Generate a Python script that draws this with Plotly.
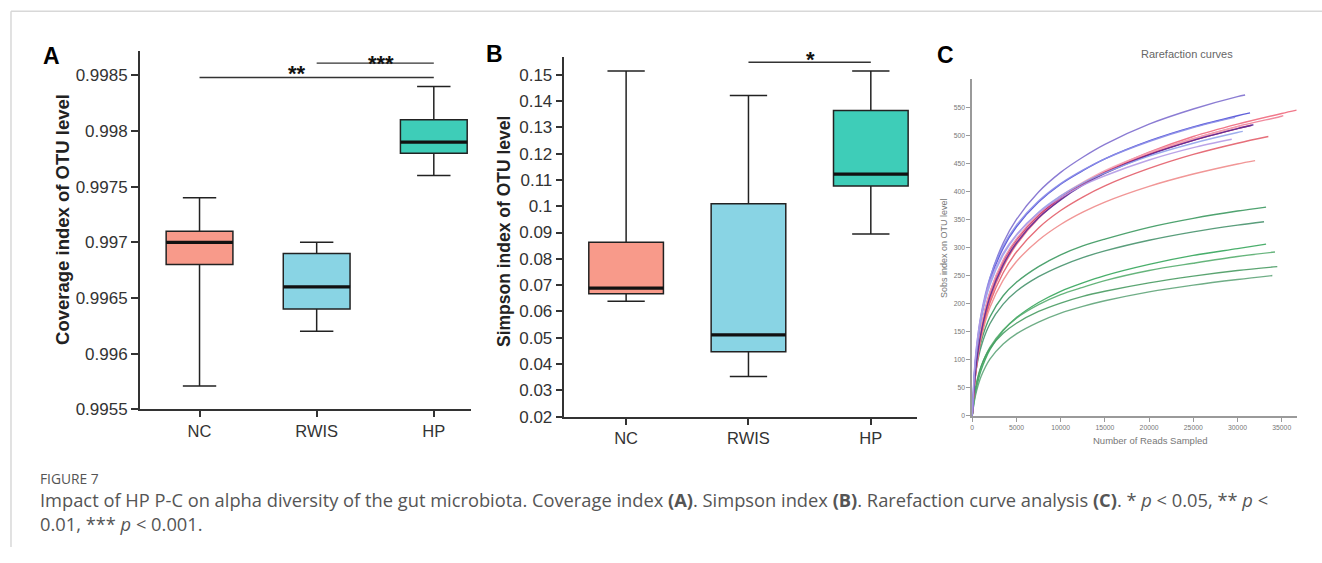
import plotly.graph_objects as go

W, H = 1322, 563

# ---------------- data ----------------
groups = ["NC", "RWIS", "HP"]
box_colors = ["#f89a8a", "#89d4e4", "#3ecdb8"]

# Panel A : Coverage index
cov_lower = [0.99571, 0.99620, 0.99760]
cov_q1 = [0.99680, 0.99640, 0.99780]
cov_median = [0.99700, 0.99660, 0.99790]
cov_q3 = [0.99710, 0.99690, 0.99810]
cov_upper = [0.99740, 0.99700, 0.99840]
cov_ticks = [0.9955, 0.996, 0.9965, 0.997, 0.9975, 0.998, 0.9985]
cov_ticktext = ["0.9955", "0.996", "0.9965", "0.997", "0.9975", "0.998", "0.9985"]

# Panel B : Simpson index
simp_lower = [0.0639, 0.0353, 0.0894]
simp_q1 = [0.0667, 0.0447, 0.1077]
simp_median = [0.0689, 0.0511, 0.1122]
simp_q3 = [0.0863, 0.1009, 0.1364]
simp_upper = [0.1514, 0.1421, 0.1514]
simp_ticks = [0.02, 0.03, 0.04, 0.05, 0.06, 0.07, 0.08, 0.09, 0.10, 0.11, 0.12, 0.13, 0.14, 0.15]
simp_ticktext = ["0.02", "0.03", "0.04", "0.05", "0.06", "0.07", "0.08", "0.09", "0.1",
                 "0.11", "0.12", "0.13", "0.14", "0.15"]

# significance brackets: (from, to, bracket level, label, label x, label y)
cov_sig = [(0, 2, 0.99848, "**", 0.83, 0.99852), (1, 2, 0.99861, "***", 1.55, 0.99861)]
simp_sig = [(1, 2, 0.1547, "*", 1.51, 0.1557)]

# Panel C : rarefaction curves (reads sampled grid, per-sample last depth and Sobs values)
reads_grid = [0, 250, 500, 1000, 2000, 3500, 5000, 7500, 10000, 12500, 15000, 20000, 25000, 30000, 35000]

purple_ends = [30860, 31420, 29730, 31800, 30600, 29350]
purple_sobs = [
    [0, 70, 115, 174, 245, 308, 350, 399, 434, 461, 484, 520, 547, 569, 572],
    [0, 74, 119, 176, 241, 299, 337, 381, 413, 437, 458, 490, 515, 535, 540],
    [0, 79, 124, 181, 246, 303, 340, 383, 414, 438, 458, 489, 514, 532],
    [0, 57, 96, 148, 212, 269, 308, 353, 385, 411, 432, 465, 491, 512, 519],
    [0, 75, 118, 171, 233, 287, 322, 363, 392, 415, 433, 463, 486, 505, 507],
    [0, 82, 126, 179, 239, 290, 323, 362, 389, 411, 428, 456, 478, 493],
]
purple_colors = ["#7f6fcf", "#4f4fd6", "#8d8fe8", "#5b2d9a", "#93a5ec", "#b49be6"]

pink_ends = [36690, 35180, 31600, 30480, 33490, 31990]
pink_sobs = [
    [0, 53, 89, 141, 206, 265, 305, 352, 386, 413, 435, 470, 498, 520, 539, 545],
    [0, 58, 97, 149, 213, 271, 310, 355, 388, 414, 435, 468, 494, 516, 534, 535],
    [0, 63, 103, 156, 220, 276, 314, 358, 389, 414, 434, 466, 491, 512, 518],
    [0, 63, 104, 157, 221, 278, 316, 360, 392, 416, 437, 469, 494, 515, 517],
    [0, 55, 91, 141, 201, 255, 292, 335, 366, 390, 410, 441, 466, 486, 498],
    [0, 55, 90, 137, 193, 242, 275, 313, 341, 363, 381, 409, 431, 449, 455],
]
pink_colors = ["#f06a7e", "#ef7f95", "#c4225a", "#f3a3b5", "#e4606c", "#f08c8c"]

green_ends = [33230, 33000, 33230, 34240, 34500, 33940]
green_sobs = [
    [0, 60, 93, 132, 176, 214, 238, 266, 287, 303, 315, 336, 352, 365, 372],
    [0, 56, 87, 123, 164, 199, 222, 248, 267, 282, 294, 313, 328, 340, 346],
    [0, 30, 51, 81, 118, 152, 175, 202, 222, 237, 250, 270, 286, 298, 306],
    [0, 35, 57, 87, 122, 153, 174, 198, 216, 229, 241, 259, 272, 284, 292],
    [0, 38, 60, 88, 120, 147, 165, 186, 201, 213, 222, 237, 249, 259, 266],
    [0, 27, 45, 70, 101, 128, 146, 167, 183, 195, 205, 221, 233, 243, 250],
]
green_colors = ["#3e9a62", "#4a9470", "#3aa85e", "#5aae72", "#4c9e66", "#62a67c"]

rare_xticks = [0, 5000, 10000, 15000, 20000, 25000, 30000, 35000]
rare_yticks = [0, 50, 100, 150, 200, 250, 300, 350, 400, 450, 500, 550]

caption_head = "FIGURE 7"
caption_lines = [
    "Impact of HP P-C on alpha diversity of the gut microbiota. Coverage index <b>(A)</b>. "
    "Simpson index <b>(B)</b>. Rarefaction curve analysis <b>(C)</b>. * <i>p</i> &lt; 0.05, ** <i>p</i> &lt;",
    "0.01, *** <i>p</i> &lt; 0.001.",
]

# ---------------- helpers ----------------
def px_x(p):
    return p / W

def px_y(p):
    return 1 - p / H

AX = "#333333"
ARIAL = "Liberation Sans, Arial, sans-serif"

fig = go.Figure()

def add_boxes(xa, ya, lower, q1, med, q3, upper, width):
    for i, g in enumerate(groups):
        fig.add_trace(go.Box(
            x=[i], lowerfence=[lower[i]], q1=[q1[i]], median=[med[i]], q3=[q3[i]],
            upperfence=[upper[i]], width=width, whiskerwidth=0.5,
            fillcolor=box_colors[i], line=dict(color="#222222", width=1.5),
            boxpoints=False, xaxis=xa, yaxis=ya, name=g, hoverinfo="skip"))
        fig.add_trace(go.Scatter(
            x=[i - width / 2, i + width / 2], y=[med[i], med[i]], mode="lines",
            line=dict(color="#111111", width=3.2), xaxis=xa, yaxis=ya, hoverinfo="skip"))

def add_sig(xa, ya, sig):
    for a, b, lvl, lab, tx, ty in sig:
        fig.add_trace(go.Scatter(x=[a, b], y=[lvl, lvl], mode="lines",
                                 line=dict(color="#333333", width=1.3),
                                 xaxis=xa, yaxis=ya, hoverinfo="skip"))
        fig.add_annotation(x=tx, y=ty, xref=xa, yref=ya, text="<b>" + lab + "</b>",
                           showarrow=False, font=dict(family=ARIAL, size=22, color="#111"),
                           xanchor="center", yanchor="middle")

add_boxes("x", "y", cov_lower, cov_q1, cov_median, cov_q3, cov_upper, 0.57)
add_sig("x", "y", cov_sig)
add_boxes("x2", "y2", simp_lower, simp_q1, simp_median, simp_q3, simp_upper, 0.61)
add_sig("x2", "y2", simp_sig)

for ends, sobs, cols in [(green_ends, green_sobs, green_colors),
                         (pink_ends, pink_sobs, pink_colors),
                         (purple_ends, purple_sobs, purple_colors)]:
    for end, ys, c in zip(ends, sobs, cols):
        xs = [g for g in reads_grid if g < end] + [end]
        fig.add_trace(go.Scatter(x=xs, y=ys, mode="lines",
                                 line=dict(color=c, width=1.4, shape="spline", smoothing=0.9),
                                 opacity=0.9, xaxis="x3", yaxis="y3", hoverinfo="skip"))

common_axis = dict(showline=True, linecolor=AX, linewidth=1.5, ticks="outside", tickcolor=AX,
                   tickwidth=1.5, showgrid=False, zeroline=False)
yfont = dict(family=ARIAL, size=17, color="#333333")
xfont = dict(family=ARIAL, size=16.5, color="#333333")
cfont = dict(family=ARIAL, size=6.8, color="#777777")

fig.update_layout(
    width=W, height=H, margin=dict(l=0, r=0, t=0, b=0),
    paper_bgcolor="white", plot_bgcolor="white", showlegend=False,
    xaxis=dict(common_axis, domain=[px_x(138), px_x(470)], range=[-0.51, 2.32],
               tickvals=[0, 1, 2], ticktext=groups, ticklen=6, tickfont=xfont, anchor="y"),
    yaxis=dict(common_axis, domain=[px_y(416.7), px_y(51.7)], range=[0.9955, 0.99872],
               tickvals=cov_ticks, ticktext=cov_ticktext, ticklen=7, tickfont=yfont, anchor="x"),
    xaxis2=dict(common_axis, domain=[px_x(563.3), px_x(916.7)], range=[-0.504, 2.38],
                tickvals=[0, 1, 2], ticktext=groups, ticklen=6, tickfont=xfont, anchor="y2"),
    yaxis2=dict(common_axis, domain=[px_y(424.3), px_y(58.3)], range=[0.02, 0.1566],
                tickvals=simp_ticks, ticktext=simp_ticktext, ticklen=7, tickfont=yfont, anchor="x2"),
    xaxis3=dict(showline=True, linecolor="#9a9a9a", linewidth=1.5, ticks="outside", tickcolor="#9a9a9a",
                ticklen=4, tickwidth=1.2, showgrid=False, zeroline=False, tickformat="d",
                domain=[px_x(971.7), px_x(1296.7)], range=[0, 36700], tickvals=rare_xticks,
                tickfont=cfont, anchor="y3"),
    yaxis3=dict(showline=True, linecolor="#9a9a9a", linewidth=1.5, ticks="outside", tickcolor="#9a9a9a",
                ticklen=4, tickwidth=1.2, showgrid=False, zeroline=False, tickformat="d",
                domain=[px_y(423.3), px_y(80.7)], range=[0, 600], tickvals=rare_yticks,
                tickfont=cfont, anchor="x3"),
)

def ann(x, y, text, size, color="#111", bold=False, angle=0, family=ARIAL, xanchor="center", align="center"):
    fig.add_annotation(x=px_x(x), y=px_y(y), xref="paper", yref="paper",
                       text=("<b>%s</b>" % text) if bold else text, showarrow=False,
                       textangle=angle, xanchor=xanchor, yanchor="middle", align=align,
                       font=dict(family=family, size=size, color=color))

# panel letters
ann(50, 57, "A", 23, "#000", bold=True)
ann(493, 55, "B", 23, "#000", bold=True)
ann(945, 56, "C", 23, "#000", bold=True)

# axis titles
ann(60, 223, "Coverage index of OTU level", 18.5, "#222", bold=True, angle=-90)
ann(503, 236, "Simpson index of OTU level", 17.5, "#222", bold=True, angle=-90)
ann(943, 253, "Sobs index on OTU level", 9, "#777", angle=-90)
ann(1150, 448, "Number of Reads Sampled", 9.5, "#777")
ann(1187, 55, "Rarefaction curves", 11, "#666")

# caption
CF = "Open Sans, Noto Sans, sans-serif"
ann(36, 487, caption_head, 13.8, "#555", family=CF, xanchor="left")
ann(36, 521, "<br>".join(caption_lines), 18.3, "#555", family=CF, xanchor="left", align="left")

# page frame lines
fig.add_shape(type="line", xref="paper", yref="paper", x0=px_x(9), x1=1, y0=px_y(11.5), y1=px_y(11.5),
              line=dict(color="#d8d8d8", width=1.5))
fig.add_shape(type="line", xref="paper", yref="paper", x0=px_x(9), x1=px_x(9), y0=px_y(11.5), y1=px_y(557),
              line=dict(color="#d8d8d8", width=1.5))

fig.write_html("out.html")
